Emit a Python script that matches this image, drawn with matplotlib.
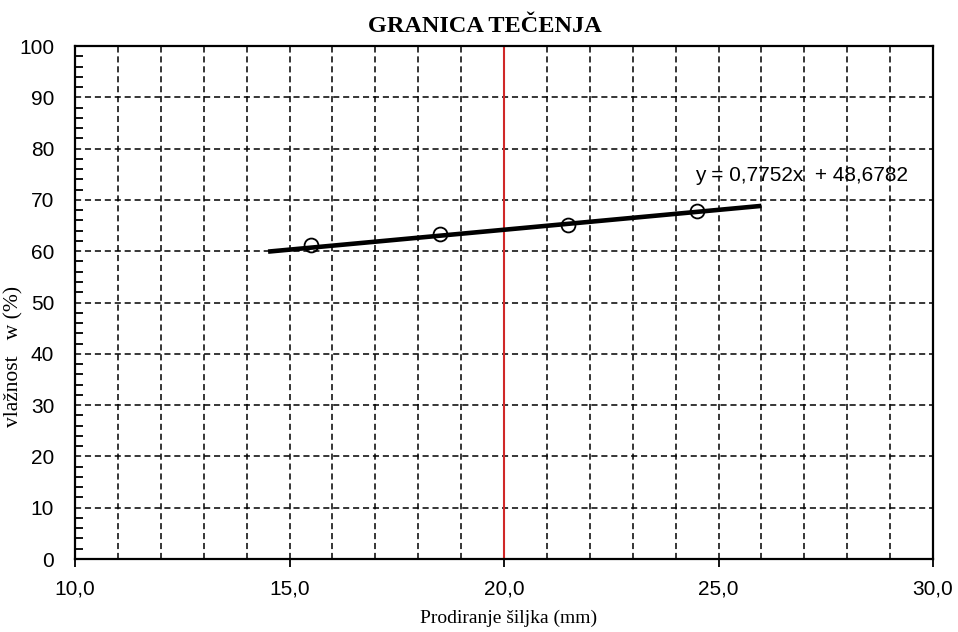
import numpy as np
import matplotlib.pyplot as plt
from matplotlib.ticker import MultipleLocator, FuncFormatter

# measured points
penetration = [15.5, 18.5, 21.5, 24.5]
moisture = [61.3, 63.4, 65.2, 67.9]

# trend line (as printed on the chart)
slope = 0.7752
intercept = 48.6782
fit_x = [14.5, 26.0]

liquid_limit_x = 20.0

fig = plt.figure(figsize=(9.58, 6.32), dpi=100)
ax = fig.add_axes([0.0783, 0.1155, 0.8956, 0.8117])

ax.set_xlim(10, 30)
ax.set_ylim(0, 100)

# grid
ax.xaxis.set_major_locator(MultipleLocator(5))
ax.xaxis.set_minor_locator(MultipleLocator(1))
ax.yaxis.set_major_locator(MultipleLocator(10))
ax.yaxis.set_minor_locator(MultipleLocator(2))
for gx in np.arange(11, 30, 1):
    if gx != liquid_limit_x:
        ax.axvline(gx, color='black', lw=1.1, ls=(0, (4, 2.5)), zorder=1)
for gy in np.arange(10, 100, 10):
    ax.axhline(gy, color='black', lw=1.1, ls=(0, (4, 2.5)), zorder=1)

ax.axvline(liquid_limit_x, color='#D02828', lw=1.5, zorder=2)

fx = np.array(fit_x)
ax.plot(fx, slope * fx + intercept, color='black', lw=3.3, zorder=3,
        solid_capstyle='butt')
ax.plot(penetration, moisture, 'o', mfc='none', mec='black', mew=1.3,
        ms=10, zorder=4)

ax.text(24.45, 73.6, 'y = 0,7752x  + 48,6782', fontsize=15,
        family='Liberation Sans', color='black', zorder=5)

for s in ax.spines.values():
    s.set_linewidth(1.6)
    s.set_color('black')

ax.tick_params(axis='x', which='major', direction='out', length=6, width=1.3,
               labelsize=15, pad=9)
ax.tick_params(axis='x', which='minor', length=0)
ax.tick_params(axis='y', which='both', direction='in', length=6, width=1.3,
               labelsize=15, pad=15)
ax.tick_params(axis='y', which='major', length=0)
for lab in ax.get_xticklabels() + ax.get_yticklabels():
    lab.set_family('Liberation Sans')

ax.xaxis.set_major_formatter(FuncFormatter(lambda v, p: f'{v:.1f}'.replace('.', ',')))
ax.yaxis.set_major_formatter(FuncFormatter(lambda v, p: f'{v:.0f}'))

fig.text(0.506, 0.958, 'GRANICA TEČENJA', family='Liberation Serif',
         fontweight='bold', fontsize=17.5, ha='center', va='center')
fig.text(0.531, 0.021, 'Prodiranje šiljka (mm)', family='Liberation Serif',
         fontsize=14, ha='center', va='center')
ax.set_ylabel('vlažnost   w (%)', family='Liberation Serif', fontsize=15.5)
ax.yaxis.set_label_coords(-0.06, 0.394)

fig.savefig('out.png', dpi=100)
